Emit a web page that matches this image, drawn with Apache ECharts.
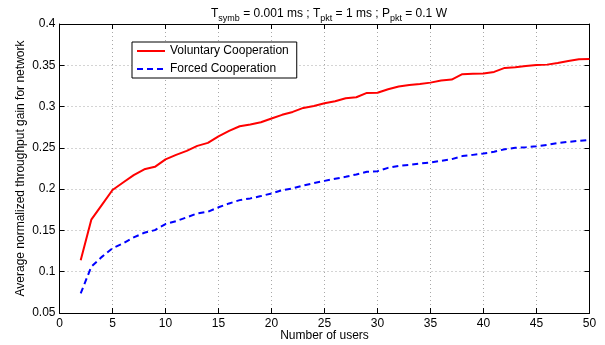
<!DOCTYPE html>
<html>
<head>
<meta charset="utf-8">
<script src="https://cdn.jsdelivr.net/npm/echarts@6/dist/echarts.min.js"></script>
<style>
  html, body { margin: 0; padding: 0; background: #fff; }
  #chart { width: 605px; height: 345px; }
</style>
</head>
<body>
<div id="chart"></div>
<script>
// Number of users (x) for each simulated point
const users = [2,3,4,5,6,7,8,9,10,11,12,13,14,15,16,17,18,19,20,21,22,23,24,25,26,
  27,28,29,30,31,32,33,34,35,36,37,38,39,40,41,42,43,44,45,46,47,48,49,50];

// Average normalized throughput gain, voluntary cooperation
const voluntary = [0.114,0.163,0.181,0.199,0.208,0.217,0.224,0.227,0.236,0.2415,0.2464,
  0.2524,0.256,0.264,0.2706,0.2762,0.2783,0.281,0.2856,0.290,0.2935,0.2984,0.3008,0.304,
  0.3065,0.310,0.3113,0.3165,0.3168,0.321,0.3243,0.3262,0.3274,0.329,0.3315,0.3327,0.3392,
  0.3396,0.340,0.342,0.3468,0.3476,0.349,0.3504,0.3508,0.3528,0.3552,0.3573,0.3577];

// Average normalized throughput gain, forced cooperation
const forced = [0.0738,0.106,0.118,0.1283,0.1343,0.1416,0.1472,0.1504,0.1577,0.1613,0.1658,
  0.1706,0.1726,0.178,0.1827,0.1867,0.1888,0.1916,0.1948,0.1988,0.2009,0.2045,0.2073,0.210,
  0.2125,0.215,0.2178,0.221,0.2218,0.2258,0.2282,0.2294,0.2311,0.2323,0.2343,0.2363,0.240,
  0.2415,0.2432,0.2452,0.2484,0.250,0.2508,0.252,0.2536,0.2557,0.2573,0.2585,0.2597];

const seriesNames = ['Voluntary Cooperation', 'Forced Cooperation'];
const xTicks = { min: 0, max: 50, step: 5 };
const yTicks = { min: 0.05, max: 0.4, step: 0.05 };

const FONT = 'Liberation Sans, Arial, Helvetica, sans-serif';
const chart = echarts.init(document.getElementById('chart'), null, { renderer: 'canvas' });

const pairs = (ys) => users.map((u, i) => [u, ys[i]]);

const axisLine = { show: true, onZero: false, lineStyle: { color: '#000', width: 1 } };
const innerTick = { show: true, inside: true, length: 5, lineStyle: { color: '#000' } };
const dotted = { show: true, lineStyle: { color: '#a8a8a8', type: [1, 3], width: 1 } };

chart.setOption({
  animation: false,
  backgroundColor: '#fff',
  textStyle: { fontFamily: FONT },
  title: {
    text: 'T{s|symb} = 0.001 ms ; T{s|pkt} = 1 ms ; P{s|pkt} = 0.1 W',
    left: 324, top: 2, textAlign: 'center',
    textStyle: {
      fontFamily: FONT, fontSize: 12, fontWeight: 'normal', color: '#000', lineHeight: 14,
      rich: {
        s: { fontFamily: FONT, fontSize: 9, color: '#000', lineHeight: 14, padding: [9, 0, 0, 0] }
      }
    }
  },
  legend: {
    left: 132, top: 42,
    orient: 'vertical',
    data: seriesNames,
    itemWidth: 28, itemHeight: 10, itemGap: 6,
    padding: [3, 8, 3, 4],
    borderColor: '#000', borderWidth: 1, backgroundColor: '#fff',
    itemStyle: { opacity: 0 },
    textStyle: { fontFamily: FONT, fontSize: 12, color: '#000' }
  },
  grid: { left: 59.5, right: 15.5, top: 24, bottom: 32, containLabel: false, outerBoundsMode: 'none' },
  xAxis: [
    {
      type: 'value', min: xTicks.min, max: xTicks.max, interval: xTicks.step,
      name: 'Number of users', nameLocation: 'middle', nameGap: 17, nameMoveOverlap: false,
      nameTextStyle: { fontFamily: FONT, fontSize: 12, color: '#000' },
      axisLine, axisTick: innerTick, splitLine: dotted,
      axisLabel: { fontFamily: FONT, fontSize: 12, color: '#000', margin: 5 }
    },
    {
      type: 'value', position: 'top', min: xTicks.min, max: xTicks.max, interval: xTicks.step,
      axisLine, axisTick: innerTick, splitLine: { show: false }, axisLabel: { show: false }
    }
  ],
  yAxis: [
    {
      type: 'value', min: yTicks.min, max: yTicks.max, interval: yTicks.step,
      name: 'Average normalized throughput gain for network', nameLocation: 'middle',
      nameGap: 33, nameMoveOverlap: false,
      nameTextStyle: { fontFamily: FONT, fontSize: 12, color: '#000' },
      axisLine, axisTick: innerTick, splitLine: dotted,
      axisLabel: {
        fontFamily: FONT, fontSize: 12, color: '#000', margin: 4,
        formatter: (v) => String(+v.toFixed(2))
      }
    },
    {
      type: 'value', position: 'right', min: yTicks.min, max: yTicks.max, interval: yTicks.step,
      axisLine, axisTick: innerTick, splitLine: { show: false }, axisLabel: { show: false }
    }
  ],
  series: [
    {
      name: seriesNames[0], type: 'line', data: pairs(voluntary),
      showSymbol: false, symbol: 'none',
      lineStyle: { color: '#ff0000', width: 2 }, itemStyle: { color: '#ff0000' }
    },
    {
      name: seriesNames[1], type: 'line', data: pairs(forced),
      showSymbol: false, symbol: 'none',
      lineStyle: { color: '#0000ff', width: 2, type: [6, 4] }, itemStyle: { color: '#0000ff' }
    }
  ]
});
</script>
</body>
</html>
